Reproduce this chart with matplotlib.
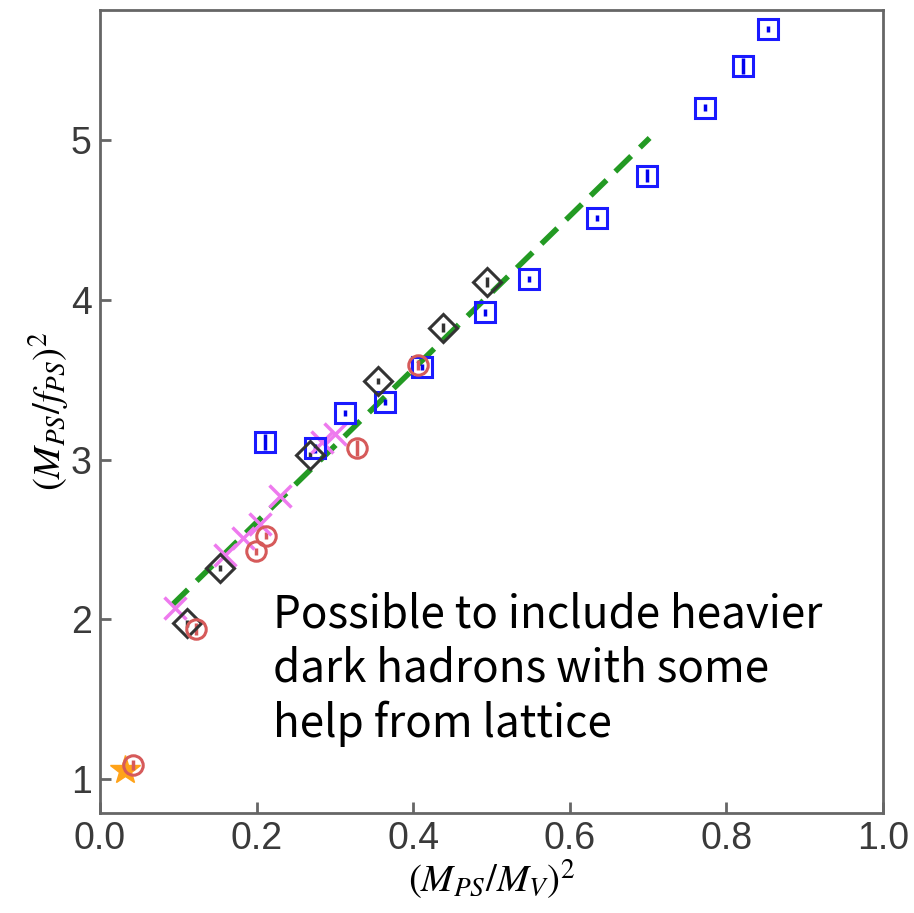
import numpy as np
import matplotlib
matplotlib.use("Agg")
import matplotlib.pyplot as plt

plt.rcParams["mathtext.fontset"] = "stix"

# ===== DATA =====
blue_x = [0.211, 0.275, 0.313, 0.364, 0.411, 0.492, 0.548, 0.635, 0.699, 0.773, 0.821, 0.853]
blue_y = [3.11, 3.07, 3.29, 3.36, 3.58, 3.92, 4.13, 4.51, 4.775, 5.20, 5.46, 5.69]
blue_err = [0.05, 0.03, 0.02, 0.02, 0.02, 0.02, 0.02, 0.02, 0.04, 0.02, 0.05, 0.02]

diam_x = [0.111, 0.153, 0.268, 0.355, 0.438, 0.494]
diam_y = [1.975, 2.32, 3.03, 3.49, 3.825, 4.11]
diam_err = [0.02, 0.02, 0.02, 0.02, 0.03, 0.03]

red_x = [0.042, 0.123, 0.199, 0.212, 0.328, 0.406]
red_y = [1.09, 1.94, 2.425, 2.525, 3.07, 3.59]
red_err = [0.03, 0.04, 0.02, 0.02, 0.05, 0.03]

pink_x = [0.096, 0.160, 0.183, 0.204, 0.230, 0.283, 0.300]
pink_y = [2.07, 2.40, 2.51, 2.60, 2.775, 3.11, 3.16]

star_x = [0.032]
star_y = [1.056]

fit_x = [0.092, 0.702]
fit_y = [2.09, 5.01]

note = "Possible to include heavier\ndark hadrons with some\nhelp from lattice"

# ===== PLOT =====
fig = plt.figure(figsize=(9.14, 9.13), dpi=100)
ax = fig.add_axes([0.1094, 0.1095, 0.8566, 0.8795])

ax.plot(fit_x, fit_y, "--", color="#239a23", lw=4, dashes=(4, 2.2), zorder=2)

ax.plot(star_x, star_y, "*", ms=22, color="#ffa319", zorder=2.5)
ax.errorbar(blue_x, blue_y, yerr=blue_err, fmt="s", ms=14, mfc="none", mec="#1a1aff",
            mew=2.2, ecolor="#0000ee", elinewidth=2.5, capsize=0, zorder=3)
ax.errorbar(diam_x, diam_y, yerr=diam_err, fmt="D", ms=14, mfc="none", mec="#333333",
            mew=2.2, ecolor="#333333", elinewidth=2.5, capsize=0, zorder=3)
ax.errorbar(red_x, red_y, yerr=red_err, fmt="o", ms=14, mfc="none", mec="#d65a5a",
            mew=2.2, ecolor="#d65a5a", elinewidth=2.5, capsize=0, zorder=3)
ax.plot(pink_x, pink_y, "x", ms=16, mew=2.5, color="#ee7aee", zorder=3)

ax.set_xlim(0, 1.0)
ax.set_ylim(0.79, 5.81)
ax.set_xticks([0.0, 0.2, 0.4, 0.6, 0.8, 1.0])
ax.set_yticks([1, 2, 3, 4, 5])
ax.set_xticklabels(["0.0", "0.2", "0.4", "0.6", "0.8", "1.0"])

for s in ax.spines.values():
    s.set_color("#666666")
    s.set_linewidth(2)
ax.tick_params(direction="in", length=8, width=2, color="#666666",
               labelsize=27, labelcolor="#3a3a3a", pad=6)
for lab in ax.get_xticklabels() + ax.get_yticklabels():
    lab.set_family("Liberation Sans")

ax.set_xlabel(r"$(M_{PS}/M_V)^2$", fontsize=28, labelpad=0)
ax.set_ylabel(r"$(M_{PS}/f_{PS})^2$", fontsize=28, labelpad=0)

ax.text(0.221, 0.0946, note, transform=ax.transAxes, fontsize=31.7,
        family="Noto Sans CJK SC", va="baseline", ha="left", linespacing=1.24)

fig.savefig("out.png", dpi=100)
